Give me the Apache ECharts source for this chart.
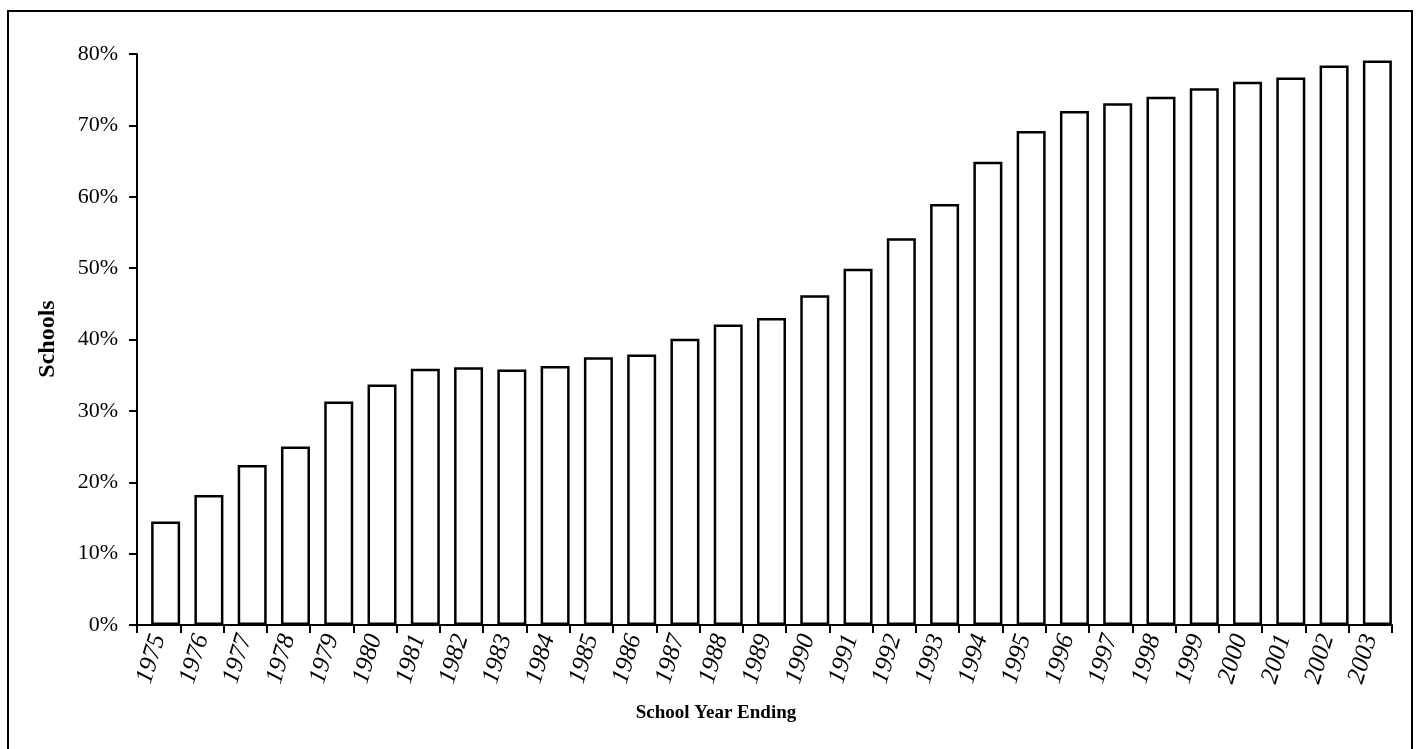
<!DOCTYPE html>
<html>
<head>
<meta charset="UTF-8">
<title>Schools by School Year Ending</title>
<script src="https://cdn.jsdelivr.net/npm/echarts@6/dist/echarts.min.js"></script>
<style>
  html, body { margin: 0; padding: 0; background: #fff; }
  #chart { width: 1416px; height: 749px; }
</style>
</head>
<body>
<div id="chart"></div>
<script>
// data
var years = ['1975', '1976', '1977', '1978', '1979', '1980', '1981', '1982', '1983', '1984',
             '1985', '1986', '1987', '1988', '1989', '1990', '1991', '1992', '1993', '1994',
             '1995', '1996', '1997', '1998', '1999', '2000', '2001', '2002', '2003'];
var schools = [14.5, 18.2, 22.4, 25.0, 31.3, 33.7, 35.9, 36.1, 35.8, 36.3,
               37.5, 37.9, 40.1, 42.1, 43.0, 46.2, 49.9, 54.2, 59.0, 64.9,
               69.2, 72.0, 73.1, 74.0, 75.2, 76.1, 76.7, 78.4, 79.1];
var yMin = 0, yMax = 80, yStep = 10;

var serif = '"Liberation Serif", "DejaVu Serif", serif';
var chart = echarts.init(document.getElementById('chart'));

var option = {
  backgroundColor: '#fff',
  animation: false,
  grid: [
    // axes grid
    { left: 137, right: 24, top: 54, bottom: 124 },
    // bars sit against the right tick of each slot, so shift them a bit
    { left: 144, right: 17, top: 54, bottom: 124 }
  ],
  xAxis: [
    {
      gridIndex: 0,
      type: 'category',
      data: years,
      boundaryGap: true,
      axisLine: { lineStyle: { color: '#000', width: 2 } },
      axisTick: { show: true, length: 8, lineStyle: { color: '#000', width: 2 } },
      axisLabel: {
        interval: 0,
        rotate: 73,
        margin: 10,
        color: '#000',
        fontFamily: serif,
        fontStyle: 'italic',
        fontSize: 25
      },
      splitLine: { show: false }
    },
    {
      gridIndex: 1,
      type: 'category',
      data: years,
      show: false
    }
  ],
  yAxis: [
    {
      gridIndex: 0,
      type: 'value',
      min: yMin,
      max: yMax,
      interval: yStep,
      axisLine: { show: true, lineStyle: { color: '#000', width: 2 } },
      axisTick: { show: true, length: 8, lineStyle: { color: '#000', width: 2 } },
      axisLabel: {
        formatter: '{value}%',
        margin: 19,
        color: '#000',
        fontFamily: serif,
        fontSize: 22
      },
      splitLine: { show: false }
    },
    {
      gridIndex: 1,
      type: 'value',
      min: yMin,
      max: yMax,
      show: false
    }
  ],
  series: [
    {
      name: 'Schools',
      type: 'bar',
      xAxisIndex: 1,
      yAxisIndex: 1,
      data: schools,
      barWidth: 29,
      itemStyle: { color: '#fff', borderColor: '#000', borderWidth: 2.5 },
      z: 1
    }
  ],
  graphic: [
    {
      type: 'rect',
      shape: { x: 8, y: 11, width: 1404, height: 760 },
      style: { fill: 'none', stroke: '#000', lineWidth: 2 }
    },
    {
      type: 'text',
      x: 48,
      y: 339,
      rotation: Math.PI / 2,
      style: {
        text: 'Schools',
        fill: '#000',
        font: 'bold 24px ' + serif,
        textAlign: 'center',
        textVerticalAlign: 'middle'
      }
    },
    {
      type: 'text',
      x: 716,
      y: 713,
      style: {
        text: 'School Year Ending',
        fill: '#000',
        font: 'bold 19px ' + serif,
        textAlign: 'center',
        textVerticalAlign: 'middle'
      }
    }
  ]
};

chart.setOption(option);
</script>
</body>
</html>
